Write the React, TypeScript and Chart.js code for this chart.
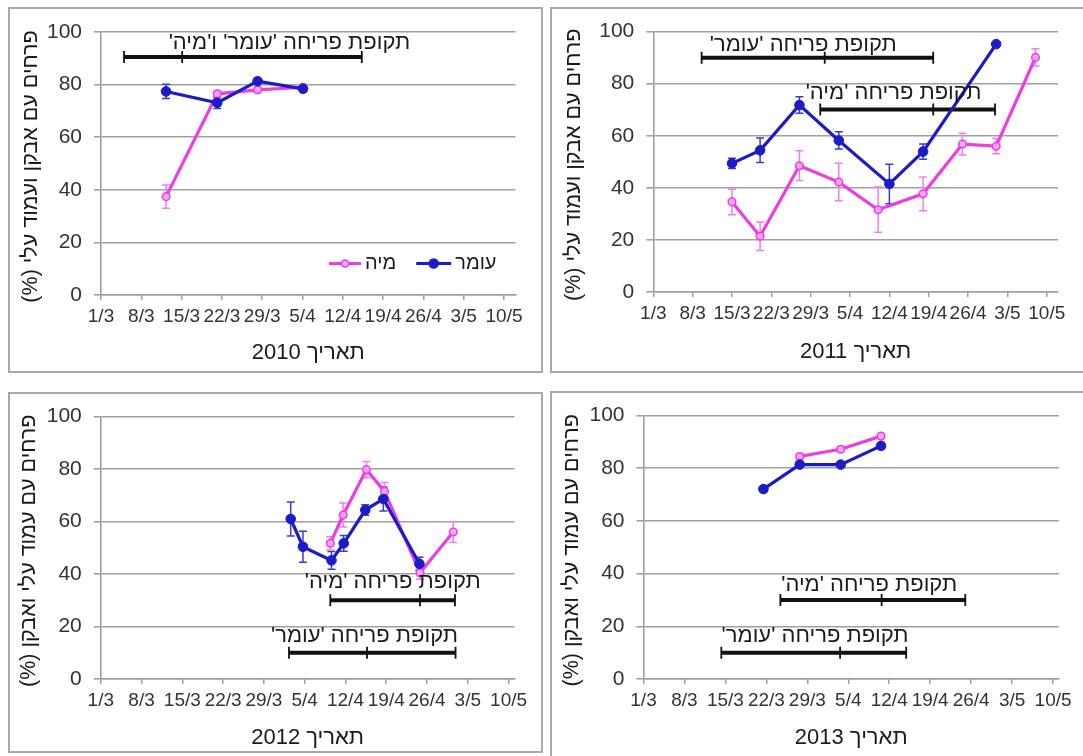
import React, { useEffect, useRef } from 'react';
import { Chart, registerables } from 'chart.js';

Chart.register(...registerables);

// ---------- shared axis data ----------
const X_TICK_DAYS = [0, 7, 14, 21, 28, 35, 42, 49, 56, 63, 70]; // days since 1/3
const X_TICK_LABELS = ['1/3', '8/3', '15/3', '22/3', '29/3', '5/4', '12/4', '19/4', '26/4', '3/5', '10/5'];
const Y_TICKS = [0, 20, 40, 60, 80, 100];
const SERIES_NAMES = ['עומר', 'מיה'];

// ---------- 2010 ----------
const OMER_2010_DAYS = [11.3, 20.2, 27.2, 35.1];
const OMER_2010_VALUES = [77.4, 73.1, 81.3, 78.4];
const OMER_2010_ERRORS = [2.7, 2.2, 1, 1];
const MIA_2010_DAYS = [11.3, 20.2, 27.2, 35.1];
const MIA_2010_VALUES = [37.4, 76.5, 78, 79];
const MIA_2010_ERRORS = [4.4, 1, 1, 1];
const BLOOM_2010_BOTH = [4.0, 14.1, 45.3, 90.5]; // start, middle, end (days), level (%)

// ---------- 2011 ----------
const OMER_2011_DAYS = [14, 19, 26, 33, 42, 48, 61];
const OMER_2011_VALUES = [49.4, 54.4, 71.8, 58.2, 41.5, 53.9, 95.2];
const OMER_2011_ERRORS = [2, 4.7, 3.2, 3.3, 7.6, 2.9, 0];
const MIA_2011_DAYS = [14, 19, 26, 33, 40, 48, 55, 61, 68];
const MIA_2011_VALUES = [34.6, 21.4, 48.5, 42.2, 31.6, 37.7, 56.8, 56, 90.1];
const MIA_2011_ERRORS = [4.9, 5.5, 5.7, 7.2, 8.7, 6.5, 4.2, 2.9, 3.3];
const BLOOM_2011_OMER = [8.6, 30.5, 49.8, 90];
const BLOOM_2011_MIA = [29.7, 49.8, 60.8, 70.1];

// ---------- 2012 ----------
const OMER_2012_DAYS = [32.6, 34.7, 39.6, 41.7, 45.4, 48.5, 54.7];
const OMER_2012_VALUES = [61, 50.4, 45.2, 51.7, 64.4, 68.6, 43.9];
const OMER_2012_ERRORS = [6.5, 5.9, 3.4, 3, 2, 4.6, 2.5];
const MIA_2012_DAYS = [39.4, 41.6, 45.6, 48.7, 54.8, 60.5];
const MIA_2012_VALUES = [51.7, 62.5, 79.8, 71.5, 40.5, 56];
const MIA_2012_ERRORS = [2.5, 4.6, 3.1, 3.4, 2.5, 4];
const BLOOM_2012_MIA = [39.4, 54.8, 60.8, 30];
const BLOOM_2012_OMER = [32.3, 45.7, 60.9, 10];

// ---------- 2013 ----------
const OMER_2013_DAYS = [20.5, 26.7, 33.7, 40.6];
const OMER_2013_VALUES = [72.1, 81.4, 81.4, 88.5];
const OMER_2013_ERRORS = [1, 1, 1, 1];
const MIA_2013_DAYS = [26.7, 33.7, 40.6];
const MIA_2013_VALUES = [84.5, 87.2, 92.2];
const MIA_2013_ERRORS = [1, 1, 1];
const BLOOM_2013_MIA = [23.4, 40.7, 55, 30];
const BLOOM_2013_OMER = [13.3, 33.6, 44.9, 10];

// ---------- texts ----------
const Y_TITLE_A = 'פרחים עם אבקן ועמוד עלי (%)';
const Y_TITLE_B = 'פרחים עם עמוד עלי ואבקן (%)';
const BLOOM_LABEL_BOTH = "תקופת פריחה 'עומר' ו'מיה'";
const BLOOM_LABEL_OMER = "תקופת פריחה 'עומר'";
const BLOOM_LABEL_MIA = "תקופת פריחה 'מיה'";

// ---------- styles ----------
const FONT = "'Liberation Sans', Arial, sans-serif";
const BLUE = '#1c1cc6';
const BLUE_ERR = '#3b3bd2';
const PINK = '#ee3ce4';
const PINK_FILL = '#f7a6ef';
const PINK_ERR = '#f27ee9';
const GRID = '#a0a0a0';
const TEXT = '#1a1a1a';

type PanelDef = {
  key: string;
  left: number; top: number; width: number; height: number;
  area: { left: number; right: number; top: number; bottom: number };
  xMax: number;
  xTitle: string; xTitleY: number;
  yTitle: string; yTitleX: number;
  omer: [number[], number[], number[]];
  mia: [number[], number[], number[]];
  periods: { data: number[]; label: string; labelRightDay: number; labelValue: number }[];
  legend: boolean;
};

const PANELS: PanelDef[] = [
  {
    key: '2010', left: 8, top: 7, width: 535, height: 366,
    area: { left: 93, right: 507.5, top: 25, bottom: 288 }, xMax: 72,
    xTitle: 'תאריך 2010', xTitleY: 346, yTitle: Y_TITLE_A, yTitleX: 23,
    omer: [OMER_2010_DAYS, OMER_2010_VALUES, OMER_2010_ERRORS],
    mia: [MIA_2010_DAYS, MIA_2010_VALUES, MIA_2010_ERRORS],
    periods: [{ data: BLOOM_2010_BOTH, label: BLOOM_LABEL_BOTH, labelRightDay: 53.7, labelValue: 95.8 }],
    legend: true,
  },
  {
    key: '2011', left: 550, top: 7, width: 535, height: 366,
    area: { left: 103.3, right: 508, top: 23, bottom: 285 }, xMax: 72,
    xTitle: 'תאריך 2011', xTitleY: 345, yTitle: Y_TITLE_A, yTitleX: 24,
    omer: [OMER_2011_DAYS, OMER_2011_VALUES, OMER_2011_ERRORS],
    mia: [MIA_2011_DAYS, MIA_2011_VALUES, MIA_2011_ERRORS],
    periods: [
      { data: BLOOM_2011_OMER, label: BLOOM_LABEL_OMER, labelRightDay: 43.3, labelValue: 94.9 },
      { data: BLOOM_2011_MIA, label: BLOOM_LABEL_MIA, labelRightDay: 58.4, labelValue: 76.5 },
    ],
    legend: false,
  },
  {
    key: '2012', left: 8, top: 392, width: 535, height: 361,
    area: { left: 92.8, right: 506.4, top: 18, bottom: 287 }, xMax: 71,
    xTitle: 'תאריך 2012', xTitleY: 346, yTitle: Y_TITLE_B, yTitleX: 21.5,
    omer: [OMER_2012_DAYS, OMER_2012_VALUES, OMER_2012_ERRORS],
    mia: [MIA_2012_DAYS, MIA_2012_VALUES, MIA_2012_ERRORS],
    periods: [
      { data: BLOOM_2012_MIA, label: BLOOM_LABEL_MIA, labelRightDay: 65.2, labelValue: 36.8 },
      { data: BLOOM_2012_OMER, label: BLOOM_LABEL_OMER, labelRightDay: 61.3, labelValue: 16.4 },
    ],
    legend: false,
  },
  {
    key: '2013', left: 550, top: 391, width: 535, height: 368,
    area: { left: 93.5, right: 508.9, top: 19, bottom: 288 }, xMax: 71,
    xTitle: 'תאריך 2013', xTitleY: 347, yTitle: Y_TITLE_B, yTitleX: 22.5,
    omer: [OMER_2013_DAYS, OMER_2013_VALUES, OMER_2013_ERRORS],
    mia: [MIA_2013_DAYS, MIA_2013_VALUES, MIA_2013_ERRORS],
    periods: [
      { data: BLOOM_2013_MIA, label: BLOOM_LABEL_MIA, labelRightDay: 53.6, labelValue: 35.6 },
      { data: BLOOM_2013_OMER, label: BLOOM_LABEL_OMER, labelRightDay: 45.3, labelValue: 16.4 },
    ],
    legend: false,
  },
];

function overlayPlugin(panel: PanelDef) {
  return {
    id: 'overlay' + panel.key,
    beforeDatasetsDraw(chart: any) {
      const ctx = chart.ctx;
      const xs = chart.scales.x;
      const ys = chart.scales.y;
      // vertical error bars
      chart.data.datasets.forEach((ds: any, di: number) => {
        const meta = chart.getDatasetMeta(di);
        const errs: number[] = ds.errorBars || [];
        ctx.save();
        ctx.strokeStyle = ds.errorColor;
        ctx.lineWidth = 1.5;
        meta.data.forEach((pt: any, j: number) => {
          const e = errs[j];
          if (!e) return;
          const v = ds.data[j].y;
          const yt = ys.getPixelForValue(v + e);
          const yb = ys.getPixelForValue(v - e);
          const x = pt.x;
          ctx.beginPath();
          ctx.moveTo(x, yt); ctx.lineTo(x, yb);
          ctx.moveTo(x - 4, yt); ctx.lineTo(x + 4, yt);
          ctx.moveTo(x - 4, yb); ctx.lineTo(x + 4, yb);
          ctx.stroke();
        });
        ctx.restore();
      });
      // flowering-period bars
      panel.periods.forEach((p) => {
        const [s, m, e, lvl] = p.data;
        const y = ys.getPixelForValue(lvl);
        const x0 = xs.getPixelForValue(s);
        const x1 = xs.getPixelForValue(m);
        const x2 = xs.getPixelForValue(e);
        ctx.save();
        ctx.strokeStyle = '#111';
        ctx.lineWidth = 4;
        ctx.beginPath();
        ctx.moveTo(x0, y); ctx.lineTo(x2, y);
        ctx.stroke();
        ctx.lineWidth = 1.8;
        ctx.beginPath();
        [x0, x1, x2].forEach((x) => { ctx.moveTo(x, y - 6); ctx.lineTo(x, y + 6); });
        ctx.stroke();
        ctx.restore();
      });
    },
    afterDraw(chart: any) {
      const ctx = chart.ctx;
      const xs = chart.scales.x;
      const ys = chart.scales.y;
      const area = chart.chartArea;
      ctx.save();
      ctx.direction = 'rtl';
      ctx.fillStyle = TEXT;
      // period labels
      ctx.font = `22px ${FONT}`;
      ctx.textAlign = 'right';
      ctx.textBaseline = 'middle';
      panel.periods.forEach((p) => {
        ctx.fillText(p.label, xs.getPixelForValue(p.labelRightDay), ys.getPixelForValue(p.labelValue));
      });
      // x title
      ctx.font = `22px ${FONT}`;
      ctx.textAlign = 'center';
      ctx.fillText(panel.xTitle, (area.left + area.right) / 2, panel.xTitleY);
      // y title
      ctx.save();
      ctx.translate(panel.yTitleX, (area.top + area.bottom) / 2 + 3);
      ctx.rotate(-Math.PI / 2);
      ctx.font = `21.5px ${FONT}`;
      ctx.textAlign = 'center';
      ctx.fillText(panel.yTitle, 0, 0);
      ctx.restore();
      // legend
      if (panel.legend) {
        const ly = ys.getPixelForValue(12);
        let x = area.right - 19;
        ctx.font = `20px ${FONT}`;
        ctx.textAlign = 'right';
        const items = [
          { name: SERIES_NAMES[0], color: BLUE, fill: BLUE, r: 4.5, len: 35, gapAfter: 20 },
          { name: SERIES_NAMES[1], color: PINK, fill: PINK_FILL, r: 3.5, len: 32, gapAfter: 0 },
        ];
        items.forEach((it) => {
          ctx.fillStyle = TEXT;
          ctx.fillText(it.name, x, ly);
          x -= ctx.measureText(it.name).width + 4;
          ctx.strokeStyle = it.color;
          ctx.lineWidth = 3;
          ctx.beginPath();
          ctx.moveTo(x - it.len, ly); ctx.lineTo(x, ly);
          ctx.stroke();
          ctx.beginPath();
          ctx.arc(x - it.len / 2, ly, it.r, 0, Math.PI * 2);
          ctx.fillStyle = it.fill;
          ctx.fill();
          ctx.lineWidth = 1.5;
          ctx.stroke();
          x -= it.len + it.gapAfter;
        });
      }
      ctx.restore();
    },
  };
}

function toPoints(days: number[], values: number[]) {
  return days.map((d, i) => ({ x: d, y: values[i] }));
}

function makeConfig(panel: PanelDef): any {
  const tickFontX = { family: FONT, size: 19 };
  const tickFontY = { family: FONT, size: 21 };
  return {
    type: 'line',
    data: {
      datasets: [
        {
          label: SERIES_NAMES[0],
          data: toPoints(panel.omer[0], panel.omer[1]),
          errorBars: panel.omer[2],
          errorColor: BLUE_ERR,
          borderColor: BLUE,
          backgroundColor: BLUE,
          borderWidth: 3.2,
          pointRadius: 4.8,
          pointBackgroundColor: BLUE,
          pointBorderColor: BLUE,
          pointBorderWidth: 1,
          tension: 0,
        },
        {
          label: SERIES_NAMES[1],
          data: toPoints(panel.mia[0], panel.mia[1]),
          errorBars: panel.mia[2],
          errorColor: PINK_ERR,
          borderColor: PINK,
          backgroundColor: PINK,
          borderWidth: 3.2,
          pointRadius: 3.8,
          pointBackgroundColor: PINK_FILL,
          pointBorderColor: PINK,
          pointBorderWidth: 1.5,
          tension: 0,
        },
      ],
    },
    options: {
      animation: false,
      responsive: false,
      maintainAspectRatio: false,
      devicePixelRatio: 1,
      layout: { padding: { top: panel.area.top, right: panel.width - panel.area.right, left: 0, bottom: 0 } },
      plugins: { legend: { display: false }, tooltip: { enabled: false }, title: { display: false } },
      scales: {
        x: {
          type: 'linear',
          min: 0,
          max: panel.xMax,
          afterFit: (s: any) => { s.height = panel.height - panel.area.bottom; },
          afterBuildTicks: (s: any) => { s.ticks = X_TICK_DAYS.map((v) => ({ value: v })); },
          ticks: {
            autoSkip: false,
            maxRotation: 0,
            minRotation: 0,
            font: tickFontX,
            color: '#333',
            padding: 5,
            callback: (_v: any, i: number) => X_TICK_LABELS[i],
          },
          grid: { drawOnChartArea: false, drawTicks: true, tickLength: 5, color: GRID, lineWidth: 1.5 },
          border: { display: true, color: GRID, width: 1.5 },
        },
        y: {
          min: 0,
          max: 100,
          afterFit: (s: any) => { s.width = panel.area.left; },
          afterBuildTicks: (s: any) => { s.ticks = Y_TICKS.map((v) => ({ value: v })); },
          ticks: { font: tickFontY, color: '#333', padding: 12 },
          grid: { color: GRID, lineWidth: 1.6, tickLength: 7 },
          border: { display: true, color: GRID, width: 1.6 },
        },
      },
    },
    plugins: [overlayPlugin(panel)],
  };
}

function Panel({ panel }: { panel: PanelDef }) {
  const ref = useRef<HTMLCanvasElement>(null);
  useEffect(() => {
    if (!ref.current) return;
    const chart = new Chart(ref.current, makeConfig(panel));
    return () => chart.destroy();
  }, [panel]);
  return (
    <div style={{ position: 'absolute', left: panel.left, top: panel.top, width: panel.width, height: panel.height }}>
      <canvas
        ref={ref}
        width={panel.width}
        height={panel.height}
        style={{ width: panel.width, height: panel.height, display: 'block' }}
      />
      <div
        style={{
          position: 'absolute', left: 0, top: 0, width: panel.width, height: panel.height,
          boxSizing: 'border-box', border: '2px solid #a9a9a9', pointerEvents: 'none',
        }}
      />
    </div>
  );
}

export default function App() {
  return (
    <div style={{ position: 'absolute', left: 0, top: 0, width: 1083, height: 756, overflow: 'hidden', background: '#fff' }}>
      {PANELS.map((p) => <Panel key={p.key} panel={p} />)}
    </div>
  );
}
